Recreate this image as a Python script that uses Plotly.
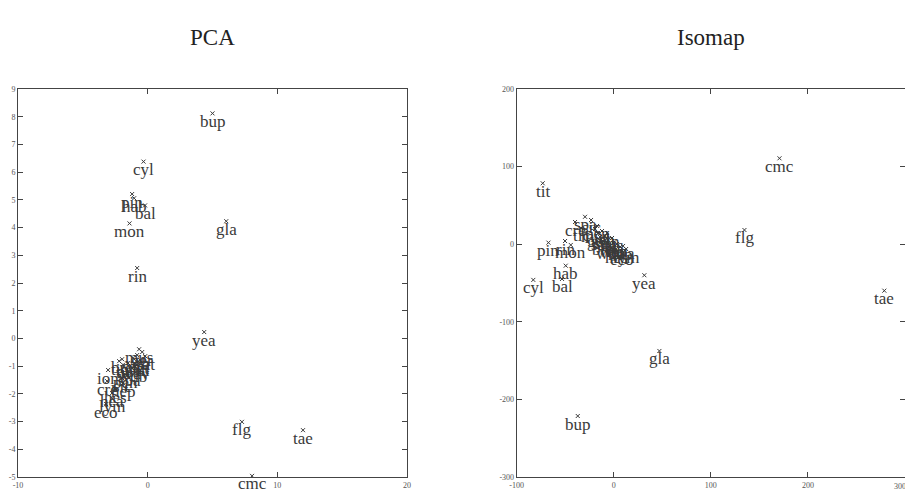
import plotly.graph_objects as go

# ---------------- data ----------------
outlier_names = ["bup", "cyl", "pin", "hab", "bal", "mon", "rin", "gla", "yea", "flg", "tae", "cmc", "tit"]
pca_out_x = [5.0, -0.32, -1.2, -1.04, -0.2, -1.4, -0.81, 6.06, 4.36, 7.27, 11.98, 8.05, -1.9]
pca_out_y = [8.12, 6.38, 5.21, 5.06, 4.8, 4.15, 2.54, 4.23, 0.23, -3.01, -3.31, -4.96, -0.95]
iso_out_x = [-37.1, -82.9, -67.3, -49.5, -53.3, -44.3, -50.2, 47.0, 31.5, 134.6, 278.7, 170.7, -73.2]
iso_out_y = [-221.4, -46.0, 2.0, -27.7, -44.8, -1.0, 4.1, -137.6, -40.0, 18.3, -59.9, 110.7, 78.5]

cluster_names = ["mus", "ger", "veh", "sat", "seg", "let", "bre", "aus", "wav", "tic", "wdb",
                 "ion", "spa", "sic", "cre", "hep", "hes", "hea", "lym", "eco", "pen", "win"]
pca_cl_x = [-0.66, -0.42, -0.81, -0.19, -1.12, -0.58, -1.97, -1.51, -0.97, -2.2, -1.2,
            -3.05, -1.43, -1.97, -3.13, -1.89, -2.51, -2.74, -2.74, -3.2, -1.74, -0.81]
pca_cl_y = [-0.39, -0.49, -0.6, -0.64, -0.71, -0.78, -0.75, -0.89, -0.99, -0.82, -1.07,
            -1.14, -1.22, -1.43, -1.54, -1.61, -1.83, -1.97, -2.16, -2.37, -1.29, -0.86]
iso_cl_x = [-19.3, -16.2, -12.1, -14.1, -8.9, -5.8, -11.0, -1.8, -0.7, -33.7, -3.8,
            3.4, -29.6, -23.4, -39.9, 6.5, 2.4, 9.6, 12.7, 8.6, -17.2, -6.8]
iso_cl_y = [19.6, 14.4, 17.0, 9.3, 10.6, 5.4, 4.1, 8.0, 1.5, 20.9, -2.3,
            0.3, 35.3, 31.2, 28.6, -3.6, -6.2, -2.3, -6.2, -8.8, 23.5, 14.4]

names = outlier_names + cluster_names
pca_x = pca_out_x + pca_cl_x
pca_y = pca_out_y + pca_cl_y
iso_x = iso_out_x + iso_cl_x
iso_y = iso_out_y + iso_cl_y

pca_xticks = [-10, 0, 10, 20]
pca_yticks = list(range(-5, 10))
iso_xticks = [-100, 0, 100, 200, 300]
iso_yticks = [-300, -200, -100, 0, 100, 200]

# ---------------- style ----------------
INK = "#3a3a3a"
AX = "#444444"
TICKC = "#555555"
SERIF = "Liberation Serif, Times New Roman, serif"
TICKFONT = dict(family=SERIF, size=8, color=TICKC)

marker = dict(symbol="x-thin", size=4, color=INK, line=dict(width=1, color=INK))

fig = go.Figure()
fig.add_trace(go.Scatter(x=pca_x, y=pca_y, mode="markers", marker=marker,
                         cliponaxis=False, xaxis="x", yaxis="y", showlegend=False))
fig.add_trace(go.Scatter(x=iso_x, y=iso_y, mode="markers", marker=marker,
                         cliponaxis=False, xaxis="x2", yaxis="y2", showlegend=False))

labels = []
for xs, ys, xr, yr in [(pca_x, pca_y, "x", "y"), (iso_x, iso_y, "x2", "y2")]:
    for n, xv, yv in zip(names, xs, ys):
        labels.append(dict(text=n, x=xv, y=yv, xref=xr, yref=yr, showarrow=False,
                           xanchor="center", yanchor="middle", yshift=-8,
                           font=dict(family=SERIF, size=17, color=INK)))

# page body has an 8px margin, so the figure is offset by 8px
OFF = 8
W, H = 913 - OFF, 496 - OFF

def px_x(p):
    return (p - OFF) / W

def px_y(p):
    return 1 - (p - OFF) / H

ydom = [px_y(477), px_y(89)]

def axis(dom, rng, ticks, anchor, texts=None):
    return dict(domain=dom, range=rng, tickvals=ticks,
                ticktext=texts if texts is not None else [str(t) for t in ticks],
                showline=True, linecolor=AX, linewidth=1, mirror="ticks",
                ticks="inside", ticklen=5, tickcolor=AX, tickwidth=1,
                showgrid=False, zeroline=False, anchor=anchor, automargin=False,
                ticklabeloverflow="allow", tickfont=TICKFONT)

# the right-most Isomap x tick label sits at the very page edge; it is drawn as an annotation
iso_x_texts = [str(t) for t in iso_xticks[:-1]] + [""]
edge_tick = dict(text=str(iso_xticks[-1]), x=iso_xticks[-1], y=px_y(486), xref="x2", yref="paper",
                 showarrow=False, xanchor="right", xshift=3, yanchor="middle", font=TICKFONT)

titles = [
    dict(text="PCA", x=px_x(212.5), y=px_y(37), xref="paper", yref="paper",
         showarrow=False, font=dict(family=SERIF, size=23, color="#222222"),
         xanchor="center", yanchor="middle"),
    dict(text="Isomap", x=px_x(710.8), y=px_y(37), xref="paper", yref="paper",
         showarrow=False, font=dict(family=SERIF, size=23, color="#222222"),
         xanchor="center", yanchor="middle"),
]

fig.update_layout(
    width=W, height=H,
    margin=dict(l=0, r=0, t=0, b=0, autoexpand=False),
    paper_bgcolor="white", plot_bgcolor="white",
    xaxis=axis([px_x(18), px_x(407)], [-10, 20], pca_xticks, "y"),
    yaxis=axis(ydom, [-5, 9], pca_yticks, "x"),
    xaxis2=axis([px_x(516.7), px_x(905)], [-100, 300], iso_xticks, "y2", iso_x_texts),
    yaxis2=axis(ydom, [-300, 200], iso_yticks, "x2"),
    annotations=titles + [edge_tick] + labels,
)

fig.write_html("out.html")
